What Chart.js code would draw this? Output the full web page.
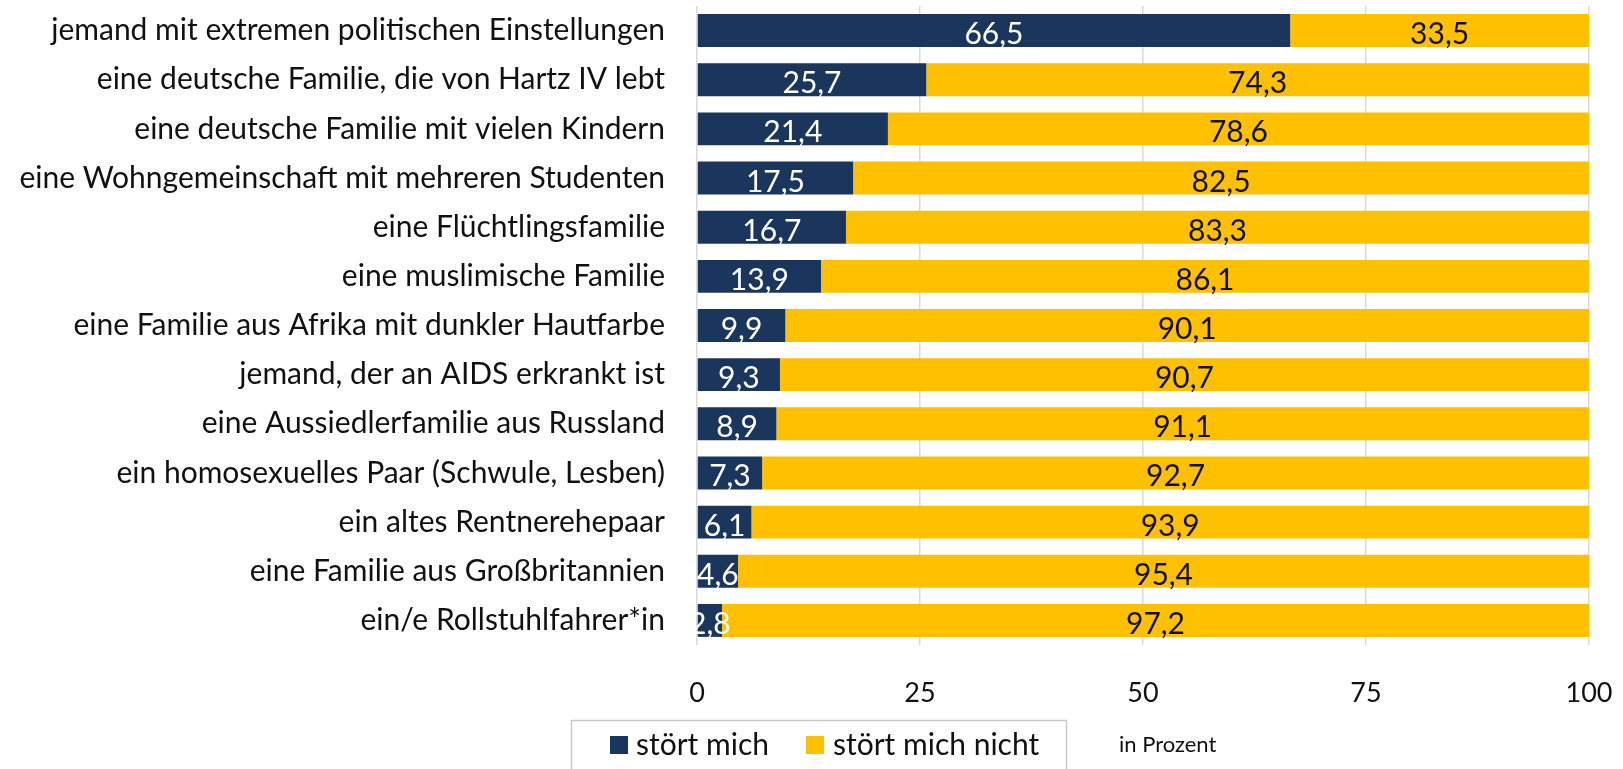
<!DOCTYPE html>
<html lang="de">
<head>
<meta charset="utf-8">
<title>Nachbarschaft</title>
<script src="https://cdn.jsdelivr.net/npm/chart.js@4.4.1/dist/chart.umd.min.js"></script>
<style>
  html, body { margin: 0; padding: 0; background: #ffffff; }
  #wrap { position: relative; width: 1623px; height: 769px; }
  canvas { display: block; }
</style>
</head>
<body>
<div id="wrap"><canvas id="chart" width="1623" height="769"></canvas></div>
<script>
// Wer als Nachbar stört
const categories = [
  'jemand mit extremen politischen Einstellungen',
  'eine deutsche Familie, die von Hartz IV lebt',
  'eine deutsche Familie mit vielen Kindern',
  'eine Wohngemeinschaft mit mehreren Studenten',
  'eine Flüchtlingsfamilie',
  'eine muslimische Familie',
  'eine Familie aus Afrika mit dunkler Hautfarbe',
  'jemand, der an AIDS erkrankt ist',
  'eine Aussiedlerfamilie aus Russland',
  'ein homosexuelles Paar (Schwule, Lesben)',
  'ein altes Rentnerehepaar',
  'eine Familie aus Großbritannien',
  'ein/e Rollstuhlfahrer*in'
];
const stoertMich      = [66.5, 25.7, 21.4, 17.5, 16.7, 13.9, 9.9, 9.3, 8.9, 7.3, 6.1, 4.6, 2.8];
const stoertMichNicht = [33.5, 74.3, 78.6, 82.5, 83.3, 86.1, 90.1, 90.7, 91.1, 92.7, 93.9, 95.4, 97.2];
const seriesNames = ['stört mich', 'stört mich nicht'];
const xTicks = [0, 25, 50, 75, 100];
const unitNote = 'in Prozent';

const NAVY = '#1b365d';
const GOLD = '#ffc000';
const FONT = 'Lato, "Open Sans", sans-serif';

const fmt = v => v.toFixed(1).replace('.', ',');

// Values written inside each bar segment
const segmentLabels = {
  id: 'segmentLabels',
  afterDatasetsDraw(chart) {
    const ctx = chart.ctx;
    ctx.save();
    ctx.font = '30px ' + FONT;
    ctx.textAlign = 'center';
    ctx.textBaseline = 'alphabetic';
    chart.data.datasets.forEach((ds, di) => {
      const meta = chart.getDatasetMeta(di);
      meta.data.forEach((bar, i) => {
        const p = bar.getProps(['x', 'y', 'base', 'height'], true);
        const cx = (p.x + p.base) / 2;
        const by = p.y + p.height / 2 - 3;
        ctx.fillStyle = di === 0 ? '#ffffff' : '#111111';
        ctx.fillText(fmt(ds.data[i]), cx, by);
      });
    });
    ctx.restore();
  }
};

// Framed legend below the axis plus the unit note
const boxedLegend = {
  id: 'boxedLegend',
  afterDraw(chart) {
    const ctx = chart.ctx;
    ctx.save();
    ctx.strokeStyle = '#c9c9c9';
    ctx.lineWidth = 1.5;
    ctx.strokeRect(571.5, 720.5, 495, 70);
    ctx.font = '30px ' + FONT;
    ctx.textBaseline = 'middle';
    ctx.textAlign = 'left';
    const items = [
      { sx: 610, tx: 636 },
      { sx: 806, tx: 833 }
    ];
    chart.data.datasets.forEach((ds, di) => {
      const it = items[di];
      ctx.fillStyle = ds.backgroundColor;
      ctx.fillRect(it.sx, 736, 18, 18);
      ctx.fillStyle = '#111111';
      ctx.fillText(ds.label, it.tx, 745);
    });
    ctx.font = '22px ' + FONT;
    ctx.fillStyle = '#111111';
    ctx.fillText(unitNote, 1119, 745);
    ctx.restore();
  }
};

function noScalePadding(scale) {
  scale.paddingTop = 0;
  scale.paddingBottom = 0;
  scale.paddingLeft = 0;
  scale.paddingRight = 0;
}

new Chart(document.getElementById('chart'), {
  type: 'bar',
  data: {
    labels: categories,
    datasets: [
      { label: seriesNames[0], data: stoertMich, backgroundColor: NAVY },
      { label: seriesNames[1], data: stoertMichNicht, backgroundColor: GOLD }
    ]
  },
  options: {
    indexAxis: 'y',
    responsive: false,
    animation: false,
    layout: { padding: { top: 6, right: 34, bottom: 0, left: 0 } },
    datasets: { bar: { categoryPercentage: 1, barPercentage: 0.67, borderWidth: 0 } },
    plugins: { legend: { display: false }, tooltip: { enabled: false } },
    scales: {
      x: {
        stacked: true,
        min: 0,
        max: 100,
        afterBuildTicks(scale) { scale.ticks = xTicks.map(v => ({ value: v })); },
        afterFit(scale) { scale.height = 124; noScalePadding(scale); },
        grid: { color: '#d9d9d9', lineWidth: 1.5, drawTicks: false },
        border: { display: false },
        ticks: { padding: 32, color: '#111111', font: { family: FONT, size: 27 } }
      },
      y: {
        stacked: true,
        afterFit(scale) { scale.width = 697; noScalePadding(scale); },
        grid: { display: false, drawTicks: false },
        border: { display: false },
        ticks: { padding: 32, color: '#111111', font: { family: FONT, size: 30 } }
      }
    }
  },
  plugins: [segmentLabels, boxedLegend]
});
</script>
</body>
</html>
